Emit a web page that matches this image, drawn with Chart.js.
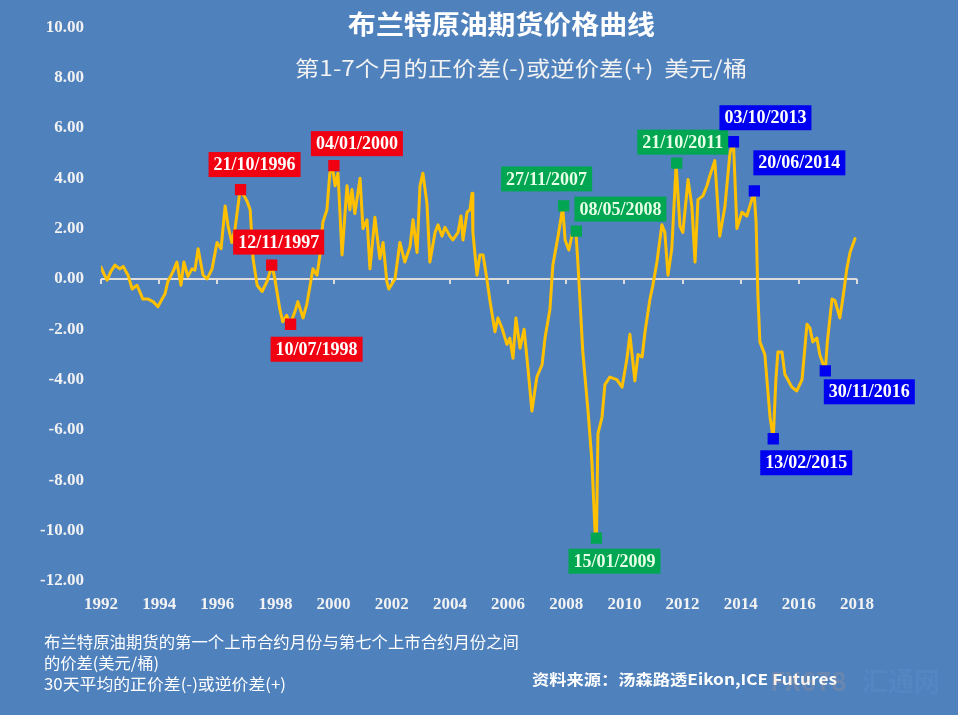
<!DOCTYPE html>
<html>
<head>
<meta charset="utf-8">
<script src="https://cdn.jsdelivr.net/npm/chart.js@4.4.1/dist/chart.umd.min.js"></script>
<style>
  html, body { margin: 0; padding: 0; background: #4F81BD; }
  #wrap { width: 958px; height: 715px; position: relative; }
</style>
</head>
<body>
<div id="wrap"><canvas id="spreadChart" width="958" height="715"></canvas></div>
<script>
// 30-day average spread, front month vs 7th month (USD/bbl)
let years = [
  1992.00, 1992.10, 1992.21, 1992.34, 1992.48, 1992.65, 1992.76, 1992.93, 1993.07, 1993.24,
  1993.44, 1993.62, 1993.79, 1993.96, 1994.10, 1994.20, 1994.30, 1994.48, 1994.61, 1994.75,
  1994.85, 1994.99, 1995.13, 1995.23, 1995.34, 1995.51, 1995.65, 1995.82, 1995.99, 1996.13,
  1996.27, 1996.37, 1996.50, 1996.61, 1996.78, 1996.92, 1997.02, 1997.13, 1997.23, 1997.37,
  1997.54, 1997.71, 1997.88, 1997.98, 1998.15, 1998.25, 1998.39, 1998.50, 1998.67, 1998.77,
  1998.95, 1999.08, 1999.29, 1999.43, 1999.53, 1999.63, 1999.77, 1999.87, 1999.96, 2000.05,
  2000.15, 2000.29, 2000.46, 2000.56, 2000.63, 2000.73, 2000.91, 2001.01, 2001.15, 2001.25,
  2001.42, 2001.59, 2001.70, 2001.83, 2001.90, 2002.11, 2002.28, 2002.45, 2002.63, 2002.73,
  2002.87, 2002.97, 2003.07, 2003.21, 2003.31, 2003.49, 2003.59, 2003.73, 2003.83, 2004.00,
  2004.10, 2004.28, 2004.38, 2004.45, 2004.59, 2004.69, 2004.76, 2004.79, 2004.93, 2005.03,
  2005.14, 2005.27, 2005.38, 2005.55, 2005.65, 2005.79, 2005.96, 2006.06, 2006.17, 2006.27,
  2006.41, 2006.55, 2006.68, 2006.82, 2006.99, 2007.17, 2007.27, 2007.44, 2007.54, 2007.72,
  2007.88, 2007.96, 2008.09, 2008.20, 2008.33, 2008.40, 2008.57, 2008.75, 2008.88, 2008.99,
  2009.04, 2009.09, 2009.23, 2009.33, 2009.50, 2009.74, 2009.92, 2010.09, 2010.19, 2010.36,
  2010.47, 2010.61, 2010.71, 2010.88, 2010.98, 2011.12, 2011.29, 2011.39, 2011.50, 2011.63,
  2011.78, 2011.91, 2012.01, 2012.19, 2012.32, 2012.43, 2012.53, 2012.70, 2012.84, 2012.94,
  2013.11, 2013.28, 2013.46, 2013.63, 2013.75, 2013.87, 2014.04, 2014.21, 2014.46, 2014.53,
  2014.59, 2014.66, 2014.83, 2015.01, 2015.12, 2015.21, 2015.28, 2015.42, 2015.52, 2015.62,
  2015.76, 2015.93, 2016.11, 2016.28, 2016.38, 2016.48, 2016.62, 2016.72, 2016.91, 2016.98,
  2017.14, 2017.24, 2017.41, 2017.51, 2017.65, 2017.76, 2017.93
];
let spread = [
   0.47,  0.20, -0.05,  0.30,  0.55,  0.40,  0.50,  0.15, -0.40, -0.25,
  -0.80, -0.80, -0.90, -1.10, -0.80, -0.60, -0.10,  0.30,  0.67, -0.25,
   0.67,  0.10,  0.40,  0.35,  1.20,  0.15,  0.00,  0.40,  1.45,  1.20,
   2.90,  2.10,  1.45,  2.00,  3.50,  3.30,  3.10,  2.75,  0.80, -0.25,
  -0.50, -0.10,  0.55,  0.00, -1.20, -1.70, -1.45, -1.80, -1.30, -0.90,
  -1.55, -1.00,  0.40,  0.15,  0.95,  2.25,  2.75,  4.20,  4.45,  3.70,
   4.20,  0.95,  3.70,  2.75,  3.55,  2.60,  4.00,  2.00,  2.35,  0.40,
   2.45,  0.80,  1.45, -0.10, -0.40,  0.00,  1.45,  0.67,  1.30,  2.35,
   1.05,  3.70,  4.20,  3.00,  0.67,  1.85,  2.15,  1.70,  2.05,  1.70,
   1.55,  1.85,  2.50,  1.55,  2.65,  2.75,  3.40,  1.85,  0.15,  0.95,
   0.95,  0.00, -0.90, -2.10, -1.55, -1.95, -2.60, -2.35, -3.15, -1.55,
  -2.75, -2.00, -3.50, -5.25, -3.90, -3.40, -2.35, -1.20,  0.55,  1.70,
   2.85,  1.55,  1.15,  1.75,  1.90,  0.67, -2.90, -5.25, -7.20, -10.00,
  -10.30, -6.15, -5.50, -4.20, -3.90, -4.00, -4.30, -3.15, -2.20, -4.05,
  -3.00, -3.10, -2.10, -0.80, -0.25,  0.67,  2.15,  1.85,  0.15,  1.20,
   4.55,  2.10,  1.85,  3.95,  2.90,  0.67,  3.15,  3.30,  3.70,  4.10,
   4.70,  1.70,  2.90,  5.00,  5.45,  2.00,  2.65,  2.50,  3.45,  2.25,
  -0.60, -2.50, -3.00, -5.50, -6.35, -4.00, -2.90, -2.90, -3.80, -4.00,
  -4.30, -4.45, -4.00, -1.80, -1.95, -2.50, -2.35, -3.00, -3.65, -2.50,
  -0.80, -0.85, -1.55, -0.80,  0.40,  1.05,  1.60
];

// highlighted dates
let markerLabels = ['21/10/1996', '12/11/1997', '10/07/1998', '04/01/2000',
                    '27/11/2007', '08/05/2008', '15/01/2009', '21/10/2011',
                    '03/10/2013', '20/06/2014', '13/02/2015', '30/11/2016'];
let markerYears  = [1996.80, 1997.87, 1998.52, 2000.01,
                    2007.91, 2008.35, 2009.04, 2011.80,
                    2013.75, 2014.47, 2015.12, 2016.91];
let markerValues = [3.55, 0.55, -1.80, 4.50,
                    2.90, 1.90, -10.30, 4.60,
                    5.45, 3.50, -6.35, -3.65];
let markerGroup  = ['red', 'red', 'red', 'red',
                    'green', 'green', 'green', 'green',
                    'blue', 'blue', 'blue', 'blue'];

let yTicks = [10, 8, 6, 4, 2, 0, -2, -4, -6, -8, -10, -12];
let xTicks = [1992, 1994, 1996, 1998, 2000, 2002, 2004, 2006, 2008, 2010, 2012, 2014, 2016, 2018];

let title = '布兰特原油期货价格曲线';
let subtitle = '第1-7个月的正价差(-)或逆价差(+)  美元/桶';
let notes = ['布兰特原油期货的第一个上市合约月份与第七个上市合约月份之间',
             '的价差(美元/桶)',
             '30天平均的正价差(-)或逆价差(+)'];
let source = '资料来源：汤森路透Eikon,ICE Futures';

// styling / layout (not data)
const BG = '#4F81BD';
const groupColors = { red: '#F00010', green: '#00A651', blue: '#0000F0' };
// label box centre offset from its marker, in px
const labelOffsets = [[14, -25], [7, -23], [26, 25], [23, -22],
                      [-17, -27], [44, -22], [18, 23], [6, -21],
                      [32, -24], [45, -28], [33, 24], [44, 21]];
const serif = '"Liberation Serif", "DejaVu Serif", serif';
const cjk = '"Noto Sans CJK SC", "Noto Sans", sans-serif';

const bgPlugin = {
    id: 'bg',
    beforeDraw(chart) {
        let ctx = chart.ctx;
        ctx.save();
        ctx.fillStyle = BG;
        ctx.fillRect(0, 0, chart.width, chart.height);
        ctx.restore();
    }
};

// zero line with small ticks, like the Excel axis crossing at 0
const zeroAxisPlugin = {
    id: 'zeroAxis',
    beforeDatasetsDraw(chart) {
        let ctx = chart.ctx;
        let xs = chart.scales.x, ys = chart.scales.y;
        let y0 = Math.round(ys.getPixelForValue(0));
        ctx.save();
        ctx.strokeStyle = '#DCDCDC';
        ctx.lineWidth = 2;
        ctx.beginPath();
        ctx.moveTo(xs.left, y0);
        ctx.lineTo(xs.right, y0);
        xTicks.forEach(t => {
            let x = Math.round(xs.getPixelForValue(t));
            ctx.moveTo(x, y0);
            ctx.lineTo(x, y0 + 5);
        });
        ctx.stroke();
        ctx.restore();
    }
};

const labelPlugin = {
    id: 'dateLabels',
    afterDatasetsDraw(chart) {
        let ctx = chart.ctx;
        let xs = chart.scales.x, ys = chart.scales.y;
        ctx.save();
        ctx.font = 'bold 18px ' + serif;
        ctx.textAlign = 'center';
        ctx.textBaseline = 'middle';
        markerLabels.forEach((txt, i) => {
            let px = xs.getPixelForValue(markerYears[i]);
            let py = ys.getPixelForValue(markerValues[i]);
            let cx = px + labelOffsets[i][0];
            let cy = py + labelOffsets[i][1];
            let w = ctx.measureText(txt).width + 10;
            let h = 25;
            ctx.fillStyle = groupColors[markerGroup[i]];
            ctx.fillRect(cx - w / 2, cy - h / 2, w, h);
            ctx.fillStyle = markerGroup[i] == 'green' ? '#E6FFE6' : '#FFFFFF';
            ctx.fillText(txt, cx, cy + 1);
        });
        ctx.restore();
    }
};

function fitText(ctx, txt, x, y, targetW, weight, size) {
    ctx.font = weight + ' ' + size + 'px ' + cjk;
    let w = ctx.measureText(txt).width;
    ctx.save();
    ctx.translate(x, y);
    ctx.scale(targetW / w, 1);
    ctx.fillText(txt, 0, 0);
    ctx.restore();
}

const textPlugin = {
    id: 'texts',
    afterDraw(chart) {
        let ctx = chart.ctx;
        ctx.save();
        ctx.fillStyle = '#FFFFFF';
        ctx.textBaseline = 'middle';
        ctx.textAlign = 'left';
        fitText(ctx, title, 348, 24, 307, 'bold', 26);
        ctx.fillStyle = '#F2F2F2';
        fitText(ctx, subtitle, 295, 68, 452, 'normal', 21);

        ctx.fillStyle = '#FFFFFF';
        fitText(ctx, notes[0], 44, 642, 475, 'normal', 16);
        fitText(ctx, notes[1], 44, 663, 115, 'normal', 16);
        fitText(ctx, notes[2], 44, 684, 242, 'normal', 16);
        fitText(ctx, source, 532, 679, 305, 'bold', 15);

        // faint watermark
        ctx.globalAlpha = 0.18;
        ctx.fillStyle = '#E0A070';
        ctx.font = 'bold 26px ' + cjk;
        ctx.fillText('FX678', 770, 681);
        ctx.fillStyle = '#6FA0D8';
        ctx.fillText('汇通网', 862, 681);
        ctx.restore();
    }
};

function drawChart() {
    let ctx = document.getElementById('spreadChart').getContext('2d');

    let linePoints = years.map((x, i) => ({ x: x, y: spread[i] }));
    let markerPoints = markerYears.map((x, i) => ({ x: x, y: markerValues[i] }));

    new Chart(ctx, {
        type: 'line',
        data: {
            datasets: [
                {
                    type: 'scatter',
                    label: 'markers',
                    data: markerPoints,
                    pointStyle: 'rect',
                    pointRadius: 8,
                    pointBackgroundColor: markerGroup.map(g => groupColors[g]),
                    pointBorderWidth: 0,
                    order: 0
                }, {
                    label: 'spread',
                    data: linePoints,
                    borderColor: '#FFC000',
                    borderWidth: 3,
                    borderJoinStyle: 'round',
                    borderCapStyle: 'round',
                    pointRadius: 0,
                    tension: 0,
                    fill: false,
                    order: 1
                }]
        },
        options: {
            responsive: false,
            animation: false,
            layout: { padding: { left: 0, right: 101, top: 23, bottom: 94 } },
            plugins: {
                legend: { display: false },
                tooltip: { enabled: false }
            },
            scales: {
                x: {
                    type: 'linear',
                    min: 1992,
                    max: 2018,
                    afterBuildTicks: (s) => { s.ticks = xTicks.map(v => ({ value: v })); },
                    afterFit: (s) => { s.height = 40; },
                    grid: { display: false, drawTicks: false },
                    border: { display: false },
                    ticks: {
                        color: '#F2F2F2',
                        font: { family: serif, size: 17, weight: 'bold' },
                        padding: 13,
                        maxRotation: 0,
                        autoSkip: false,
                        callback: v => String(v)
                    }
                },
                y: {
                    min: -12,
                    max: 10,
                    afterBuildTicks: (s) => { s.ticks = yTicks.map(v => ({ value: v })); },
                    afterFit: (s) => { s.width = 101; },
                    grid: { display: false, drawTicks: false },
                    border: { display: false },
                    ticks: {
                        color: '#F2F2F2',
                        font: { family: serif, size: 17, weight: 'bold' },
                        padding: 17,
                        callback: v => v.toFixed(2)
                    }
                }
            }
        },
        plugins: [bgPlugin, zeroAxisPlugin, labelPlugin, textPlugin]
    });
}

drawChart();
</script>
</body>
</html>
